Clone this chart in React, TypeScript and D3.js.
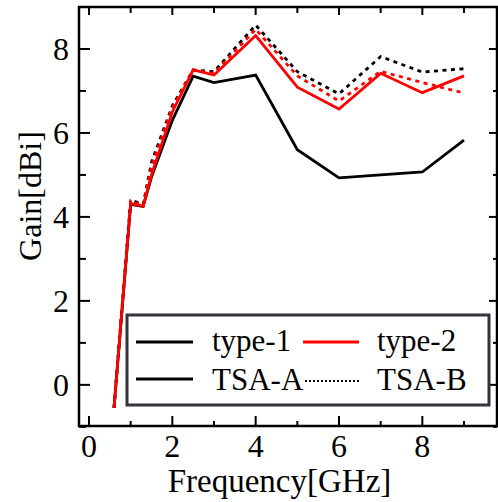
import React from "react";
import * as d3 from "d3";

const freq = [0.6, 1.0, 1.3, 1.5, 2.0, 2.5, 3, 4, 5, 6, 7, 8, 9];
const type1TsaA = [-0.55, 4.3, 4.25, 4.95, 6.3, 7.35, 7.2, 7.38, 5.6, 4.93, 5.0, 5.07, 5.83];
const type2TsaA = [-0.55, 4.32, 4.25, 5.0, 6.5, 7.5, 7.38, 8.32, 7.09, 6.57, 7.42, 6.96, 7.36];
const type1TsaB = [-0.55, 4.4, 4.3, 5.3, 6.65, 7.5, 7.46, 8.57, 7.46, 6.93, 7.82, 7.45, 7.53];
const type2TsaB = [-0.55, 4.38, 4.28, 5.2, 6.6, 7.5, 7.42, 8.47, 7.36, 6.76, 7.47, 7.2, 6.95];

const xTickLabels = [0, 2, 4, 6, 8];
const yTickLabels = [0, 2, 4, 6, 8];
const xMinorTicks = [1, 3, 5, 7, 9];
const yMinorTicks = [-1, 1, 3, 5, 7];

const legendRow1 = ["type-1", "type-2"];
const legendRow2 = ["TSA-A", "TSA-B"];

const W = 498, H = 502;
const L = 79, R = 497, T = 7, B = 426;
const FONT = "'Liberation Serif', 'Times New Roman', serif";

export default function App() {
  const x = d3.scaleLinear().domain([-0.24, 9.792]).range([L, R]);
  const y = d3.scaleLinear().domain([-0.98, 9]).range([B, T]);
  const line = d3
    .line<[number, number]>()
    .x((d) => x(d[0]))
    .y((d) => y(d[1]));
  const mk = (vals: number[]) => line(freq.map((f, i) => [f, vals[i]] as [number, number])) || "";

  const series = [
    { v: type1TsaB, color: "#000", dash: "4,4.5" },
    { v: type2TsaB, color: "#ff0000", dash: "4,4.5" },
    { v: type1TsaA, color: "#000", dash: "" },
    { v: type2TsaA, color: "#ff0000", dash: "" },
  ];

  const major = 10, minor = 6;

  return (
    <svg width={W} height={H} style={{ position: "absolute", left: 0, top: 0, background: "#fff" }}>
      <rect x={0} y={0} width={W} height={H} fill="#fff" />
      <defs>
        <clipPath id="plot">
          <rect x={L} y={T} width={R - L} height={B - T} />
        </clipPath>
      </defs>
      <g clipPath="url(#plot)">
        {series.map((s, i) => (
          <path
            key={i}
            d={mk(s.v)}
            fill="none"
            stroke={s.color}
            strokeWidth={2.8}
            strokeDasharray={s.dash || undefined}
            strokeLinejoin="miter"
          />
        ))}
      </g>
      {/* ticks */}
      <g stroke="#000" strokeWidth={2}>
        {xTickLabels.map((t) => (
          <g key={"xm" + t}>
            <line x1={x(t)} x2={x(t)} y1={B} y2={B - major} />
            <line x1={x(t)} x2={x(t)} y1={T} y2={T + major - 2} />
          </g>
        ))}
        {xMinorTicks.map((t) => (
          <g key={"xn" + t}>
            <line x1={x(t)} x2={x(t)} y1={B} y2={B - minor + 1} />
            <line x1={x(t)} x2={x(t)} y1={T} y2={T + minor} />
          </g>
        ))}
        {yTickLabels.map((t) => (
          <g key={"ym" + t}>
            <line x1={L} x2={L + major + 1} y1={y(t)} y2={y(t)} />
            <line x1={R} x2={R - major + 2} y1={y(t)} y2={y(t)} />
          </g>
        ))}
        {yMinorTicks.map((t) => (
          <g key={"yn" + t}>
            <line x1={L} x2={L + minor + 1} y1={y(t)} y2={y(t)} />
            <line x1={R} x2={R - minor + 2} y1={y(t)} y2={y(t)} />
          </g>
        ))}
      </g>
      {/* frame */}
      <rect x={L} y={T} width={R - L} height={B - T} fill="none" stroke="#000" strokeWidth={2.5} />
      {/* tick labels */}
      <g fontFamily={FONT} fontSize={32} fill="#000">
        {xTickLabels.map((t) => (
          <text key={"xl" + t} x={x(t)} y={457} textAnchor="middle">
            {t}
          </text>
        ))}
        {yTickLabels.map((t) => (
          <text key={"yl" + t} x={69} y={y(t) + 11} textAnchor="end">
            {t}
          </text>
        ))}
      </g>
      <text x={279.5} y={492} textAnchor="middle" fontFamily={FONT} fontSize={33} fill="#000">
        Frequency[GHz]
      </text>
      <text
        transform={`translate(41,196) rotate(-90)`}
        textAnchor="middle"
        fontFamily={FONT}
        fontSize={32}
        fill="#000"
      >
        Gain[dBi]
      </text>
      {/* legend */}
      <rect x={127} y={315} width={362} height={90} fill="#fff" stroke="#33333d" strokeWidth={3} />
      <g fontFamily={FONT} fontSize={31} fill="#000">
        <line x1={136} x2={193} y1={342} y2={342} stroke="#000" strokeWidth={3} />
        <text x={212} y={351}>{legendRow1[0]}</text>
        <line x1={303} x2={359} y1={342} y2={342} stroke="#ff0000" strokeWidth={3} />
        <text x={377} y={351}>{legendRow1[1]}</text>
        <line x1={136} x2={193} y1={379} y2={379} stroke="#000" strokeWidth={3} />
        <text x={212} y={390}>{legendRow2[0]}</text>
        <line x1={305} x2={359} y1={381} y2={381} stroke="#000" strokeWidth={2} strokeDasharray="2,2" />
        <text x={377} y={390}>{legendRow2[1]}</text>
      </g>
    </svg>
  );
}
